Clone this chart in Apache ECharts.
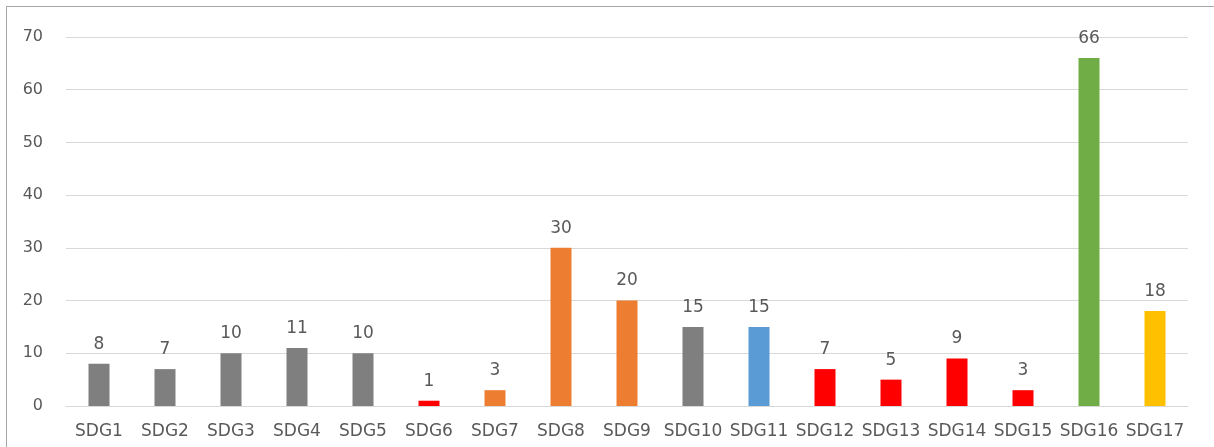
<!DOCTYPE html>
<html>
<head>
<meta charset="utf-8">
<script src="https://cdn.jsdelivr.net/npm/echarts@6/dist/echarts.min.js"></script>
<style>
html,body{margin:0;padding:0;background:#fff;overflow:hidden;}
#chart{position:absolute;left:0;top:0;width:1214px;height:447px;}
#frame{position:absolute;left:6px;top:6px;width:1220px;height:460px;border:1px solid #a6a6a6;box-sizing:border-box;pointer-events:none;}
</style>
</head>
<body>
<div id="chart"></div>
<div id="frame"></div>
<script>
const categories = ["SDG1","SDG2","SDG3","SDG4","SDG5","SDG6","SDG7","SDG8","SDG9","SDG10","SDG11","SDG12","SDG13","SDG14","SDG15","SDG16","SDG17"];
const values = [8,7,10,11,10,1,3,30,20,15,15,7,5,9,3,66,18];
const barColors = ["#7f7f7f","#7f7f7f","#7f7f7f","#7f7f7f","#7f7f7f","#ff0000","#ed7d31","#ed7d31","#ed7d31","#7f7f7f","#5b9bd5","#ff0000","#ff0000","#ff0000","#ff0000","#70ad47","#ffc000"];
const yTicks = [0,10,20,30,40,50,60,70];

const chart = echarts.init(document.getElementById('chart'), null, {renderer:'canvas'});
const font = '"DejaVu Sans", sans-serif';
chart.setOption({
  animation:false,
  backgroundColor:'#fff',
  grid:{left:66,right:26,top:37,bottom:41},
  xAxis:{
    type:'category',
    data:categories,
    axisLine:{show:true,lineStyle:{color:'#d9d9d9',width:1}},
    axisTick:{show:false},
    axisLabel:{color:'#595959',fontSize:17,fontFamily:font,margin:17,interval:0}
  },
  yAxis:{
    type:'value',
    min:yTicks[0],
    max:yTicks[yTicks.length-1],
    interval:10,
    axisLine:{show:false},
    axisTick:{show:false},
    splitLine:{lineStyle:{color:'#d9d9d9',width:1}},
    axisLabel:{color:'#595959',fontSize:16,fontFamily:font,margin:23}
  },
  series:[{
    type:'bar',
    data:values.map((v,i)=>({value:v,itemStyle:{color:barColors[i]}})),
    barWidth:21,
    label:{show:true,position:'top',distance:11,color:'#595959',fontSize:17,fontFamily:font}
  }]
});
</script>
</body>
</html>
